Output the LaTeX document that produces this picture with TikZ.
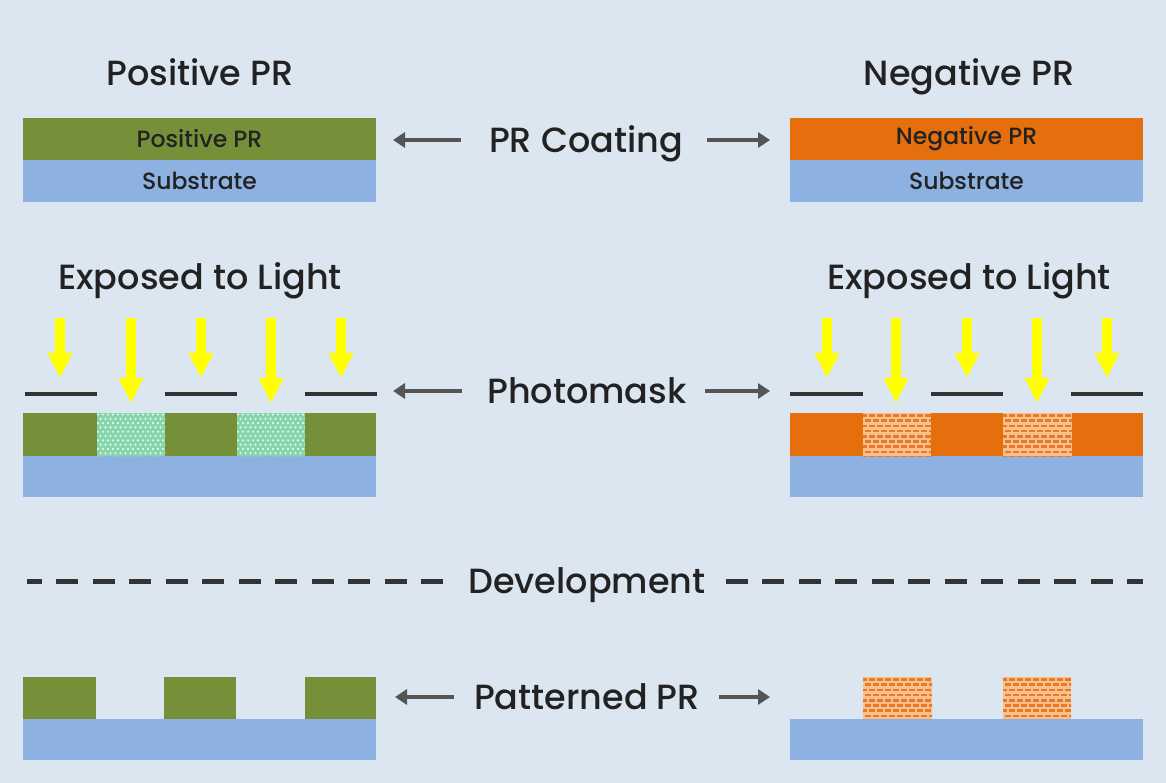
\documentclass[tikz,border=0pt]{standalone}
\usepackage{fontspec}
\setmainfont{Poppins Medium}
\usetikzlibrary{arrows.meta}
\definecolor{bg}{HTML}{DCE6F1}
\definecolor{prgreen}{HTML}{76903A}
\definecolor{prorange}{HTML}{E46F0C}
\definecolor{subblue}{HTML}{8DB1E1}
\definecolor{mint}{HTML}{86D6AC}
\definecolor{peach}{HTML}{F8C08A}
\definecolor{brick}{HTML}{E8782A}
\definecolor{arrgray}{HTML}{555555}
\definecolor{maskc}{HTML}{333333}
\definecolor{txt}{HTML}{222222}
\definecolor{lighty}{HTML}{FFFF00}
\tikzset{
  layer/.style={inner sep=0pt, outer sep=0pt, text=txt, font=\fontsize{23.5}{26}\selectfont},
  greenlay/.style={layer, fill=prgreen},
  orangelay/.style={layer, fill=prorange},
  sublay/.style={layer, fill=subblue},
  titlelbl/.style={inner sep=0pt, text=txt, font=\fontsize{35}{40}\selectfont, anchor=base},
  midlbl/.style={inner sep=0pt, text=txt, font=\fontsize{35}{40}\selectfont, text height=24.5pt, text depth=0pt},
  garrow/.style={draw=arrgray, line width=4.5pt, -{Triangle[length=12pt,width=15pt]}},
  light/.style={draw=lighty, line width=10pt, -{Triangle[length=25pt,width=23pt]}},
  maskline/.style={draw=maskc, line width=4pt},
  devline/.style={draw=maskc, line width=5pt, dash pattern=on 22pt off 14.5pt},
}
\newcommand{\mintfill}[4]{%
  \begin{scope}
  \clip (#1,#2) rectangle (#3,#4);
  \fill[mint] (#1,#2) rectangle (#3,#4);
  \foreach \j in {0,...,10}{
    \foreach \i in {0,...,14}{
      \pgfmathsetmacro{\xx}{#1+\i*5+mod(\j,2)*2.5+1}
      \pgfmathsetmacro{\yy}{#2+\j*4.3+1.5}
      \fill[white,opacity=0.8] (\xx,\yy) circle (1.2pt);
    }}
  \end{scope}}
\newcommand{\brickfill}[4]{%
  \begin{scope}
  \clip (#1,#2) rectangle (#3,#4);
  \fill[peach] (#1,#2) rectangle (#3,#4);
  \foreach \j in {0,...,8}{
    \foreach \i in {0,...,9}{
      \pgfmathsetmacro{\xx}{#1+\i*8+mod(\j,2)*4-2}
      \pgfmathsetmacro{\yy}{#2+\j*5.2+2.5}
      \draw[brick, line width=2.6pt] (\xx,\yy) -- ++(5.8,0);
    }}
  \end{scope}}
\begin{document}
\begin{tikzpicture}[x=1pt,y=-1pt]
\fill[bg] (0,0) rectangle (1166,783);
\useasboundingbox (0,0) rectangle (1166,783);

% ---- titles
\node[titlelbl] (posT) at (200,86) {Positive PR};
\node[titlelbl] (negT) at (969,86) {Negative PR};

% ---- Row 1: PR coating
\node[greenlay, minimum width=353pt, minimum height=42pt, anchor=north west] (posPR) at (23,118) {Positive PR};
\node[sublay, minimum width=353pt, minimum height=42pt, anchor=north west] (posSub) at (23,160) {Substrate};
\node[orangelay, minimum width=353pt, minimum height=42pt, anchor=north west] (negPR) at (790,118) {Negative PR};
\node[sublay, minimum width=353pt, minimum height=42pt, anchor=north west] (negSub) at (790,160) {Substrate};
\node[midlbl] (coat) at (586,140) {PR Coating};
\draw[garrow, shorten <=28pt, shorten >=17pt] (coat.west) -- (coat.west -| posPR.east);
\draw[garrow, shorten <=24pt, shorten >=20pt] (coat.east) -- (coat.east -| negPR.west);

% ---- Row 2: exposure
\node[titlelbl] (expL) at (200,290) {Exposed to Light};
\node[titlelbl] (expR) at (969,290) {Exposed to Light};

% left stack
\node[sublay, minimum width=353pt, minimum height=41pt, anchor=north west] (posSub2) at (23,456) {};
\node[greenlay, minimum width=74pt, minimum height=43pt, anchor=north west] (g1) at (23,413) {};
\node[greenlay, minimum width=72pt, minimum height=43pt, anchor=north west] (g2) at (165,413) {};
\node[greenlay, minimum width=71pt, minimum height=43pt, anchor=north west] (g3) at (305,413) {};
\mintfill{97}{413}{165}{456}
\mintfill{237}{413}{305}{456}
\node[inner sep=0pt, minimum width=68pt, minimum height=43pt, anchor=north west] (ex1) at (97,413) {};
\node[inner sep=0pt, minimum width=68pt, minimum height=43pt, anchor=north west] (ex2) at (237,413) {};

% right stack
\node[sublay, minimum width=353pt, minimum height=41pt, anchor=north west] (negSub2) at (790,456) {};
\node[orangelay, minimum width=73pt, minimum height=43pt, anchor=north west] (o1) at (790,413) {};
\node[orangelay, minimum width=72pt, minimum height=43pt, anchor=north west] (o2) at (931,413) {};
\node[orangelay, minimum width=71pt, minimum height=43pt, anchor=north west] (o3) at (1072,413) {};
\brickfill{863}{413}{931}{456}
\brickfill{1003}{413}{1072}{456}

% masks
\draw[maskline] (25,394) -- (97,394);
\draw[maskline] (165,394) -- (237,394);
\draw[maskline] (305,394) -- (377,394);
\draw[maskline] (790,394) -- (863,394);
\draw[maskline] (931,394) -- (1003,394);
\draw[maskline] (1071,394) -- (1143,394);

% light arrows
\foreach \x in {60,201,341,827,967,1107}{\draw[light] (\x,318) -- (\x,378);}
\foreach \x in {131,271,896,1037}{\draw[light] (\x,318) -- (\x,403);}

\node[midlbl] (photo) at (587,391) {Photomask};
\draw[garrow, shorten <=25pt, shorten >=17pt] (photo.west) -- (photo.west -| g3.east);
\draw[garrow, shorten <=18pt, shorten >=20pt] (photo.east) -- (photo.east -| o1.west);

% ---- Development
\node[midlbl] (dev) at (587,581) {Development};
\draw[devline, shorten <=25pt, shorten >=4pt] (dev.west) -- (dev.west -| posSub2.west);
\draw[devline, shorten <=20pt] (dev.east) -- (dev.east -| negSub2.east);

% ---- Row 4: patterned
\node[sublay, minimum width=353pt, minimum height=41pt, anchor=north west] (posSub3) at (23,719) {};
\node[greenlay, minimum width=73pt, minimum height=42pt, anchor=north west] (p1) at (23,677) {};
\node[greenlay, minimum width=72pt, minimum height=42pt, anchor=north west] (p2) at (164,677) {};
\node[greenlay, minimum width=71pt, minimum height=42pt, anchor=north west] (p3) at (305,677) {};
\node[sublay, minimum width=353pt, minimum height=41pt, anchor=north west] (negSub3) at (790,719) {};
\brickfill{863}{677}{932}{719}
\brickfill{1003}{677}{1071}{719}
\node[inner sep=0pt, minimum width=69pt, minimum height=42pt, anchor=north west] (n1) at (863,677) {};

\node[midlbl] (patt) at (587,697) {Patterned PR};
\draw[garrow, shorten <=20pt, shorten >=19pt] (patt.west) -- (patt.west -| p3.east);
\draw[garrow, shorten <=19pt, shorten >=20pt] (patt.east) -- (patt.east -| negSub3.west);
\end{tikzpicture}
\end{document}
